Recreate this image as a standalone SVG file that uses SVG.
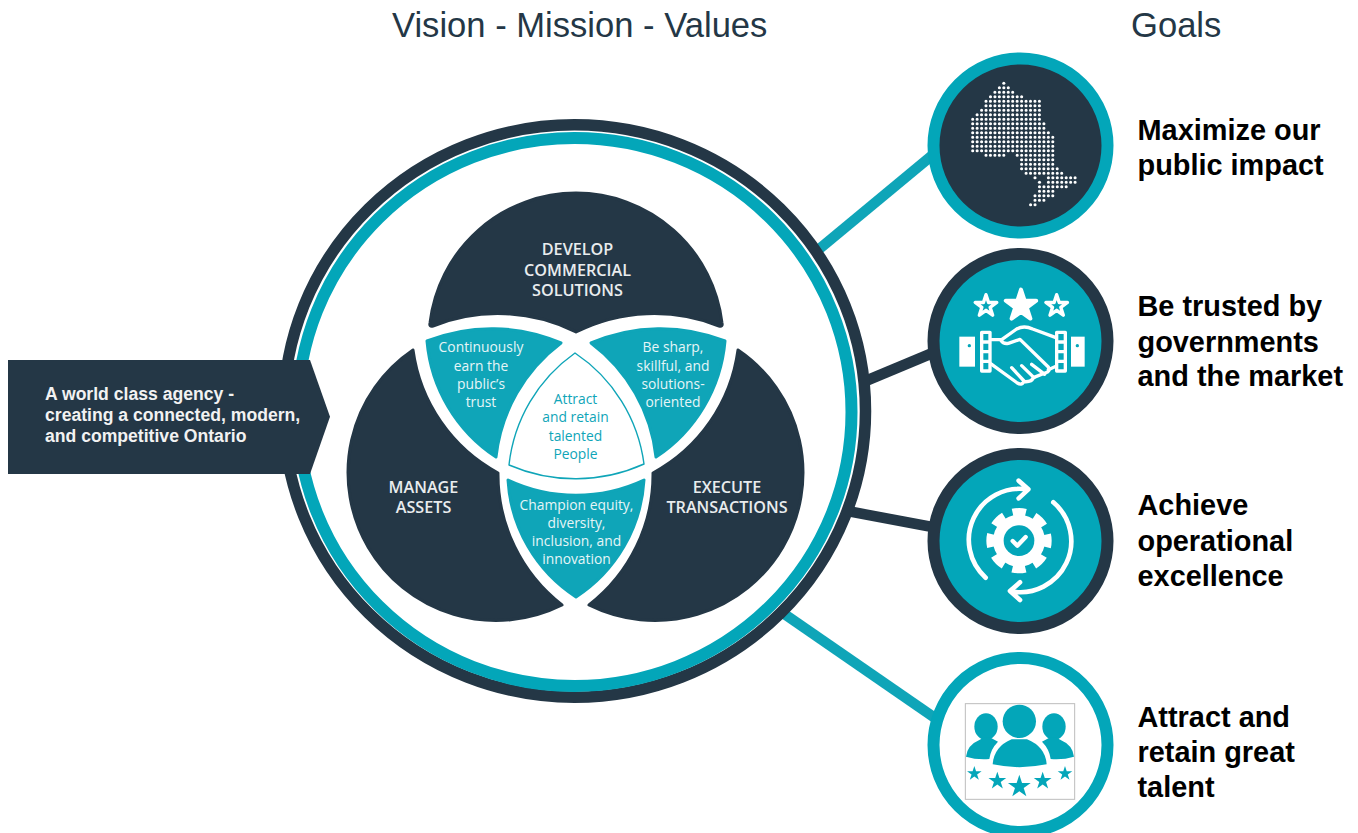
<svg xmlns="http://www.w3.org/2000/svg" xmlns:xlink="http://www.w3.org/1999/xlink" width="1358" height="833" viewBox="0 0 1358 833">
<style>
text{font-family:"Liberation Sans",Arial,sans-serif}
.title{font-size:34.600px;fill:#243746}
.goal{font-size:28.900px;font-weight:700;fill:#000}
.vis{font-size:17.600px;font-weight:700;fill:#f2f2f2}
.cap{font-family:"Open Sans","Noto Sans",sans-serif;font-size:16.200px;font-weight:600;fill:#e9ecee;text-anchor:middle}
.val{font-family:"Open Sans","Noto Sans",sans-serif;font-size:13.850px;fill:#e6f5f7;text-anchor:middle}
.valc{fill:#0fa5b8}
.dark{fill:#243746;stroke:#243746;stroke-width:3;stroke-linejoin:round}
.lens{fill:#0fa5b8;stroke:#0fa5b8;stroke-width:3;stroke-linejoin:round}
.conT{stroke:#0fa5b8;stroke-width:10.500;fill:none}
.conD{stroke:#243746;stroke-width:10.500;fill:none}
.dots path{stroke:#fff;stroke-width:3.100;stroke-linecap:round;stroke-dasharray:0 4.450;fill:none}
.ico{fill:none;stroke:#fff;stroke-width:10;stroke-linecap:round;stroke-linejoin:round}
.wf{fill:#fff}
.tf{fill:#03a6b9}
</style>
<defs>
<polygon id="star" points="0,-1 .225,-.309 .951,-.309 .363,.118 .588,.809 0,.382 -.588,.809 -.363,.118 -.951,-.309 -.225,-.309"/>
</defs>
<rect width="1358" height="833" fill="#fff"/>
<g id="connectors">
<path class="conT" d="M818 250 L935 153"/>
<path class="conD" d="M862 382.500 L935 352" style="stroke-width:11"/>
<path class="conD" d="M850 511.500 L935 527.500"/>
<path class="conT" d="M780 611 L935 718"/>
</g>
<text class="title" x="392" y="37">Vision - Mission - Values</text>
<text class="title" x="1131" y="37">Goals</text>
<g id="outer-ring" fill="none">
<ellipse cx="574.500" cy="411" rx="291" ry="286.200" stroke="#243746" stroke-width="11.500"/>
<ellipse cx="574.500" cy="412" rx="277" ry="274" stroke="#03a6b9" stroke-width="12"/>
</g>
<g id="vision">
<path fill="#243746" d="M8 360 H310 L330 416.700 L310 474 H8 Z"/>
<text class="vis" x="45" y="400">A world class agency -</text>
<text class="vis" x="45" y="421">creating a connected, modern,</text>
<text class="vis" x="45" y="442">and competitive Ontario</text>
</g>
<g id="develop">
<path class="dark" d="M430 323 A147 147 0 0 1 722 323 Q723 327 719 326 A175 175 0 0 0 576 332 A175 175 0 0 0 433 326 Q429 327 430 323 Z"/>
<text class="cap" x="577.500" y="255">DEVELOP</text>
<text class="cap" x="577.500" y="276">COMMERCIAL</text>
<text class="cap" x="577.500" y="296">SOLUTIONS</text>
</g>
<g id="manage">
<path class="dark" d="M413 350 A148 148 0 0 0 562 605 A165 165 0 0 1 498 473 A165 165 0 0 1 413 350 Z"/>
<text class="cap" x="423.500" y="493">MANAGE</text>
<text class="cap" x="423.500" y="513">ASSETS</text>
</g>
<g id="execute">
<path class="dark" d="M738 350 A148 148 0 0 1 589 605 A165 165 0 0 0 653 473 A165 165 0 0 0 738 350 Z"/>
<text class="cap" x="727" y="493">EXECUTE</text>
<text class="cap" x="727" y="513">TRANSACTIONS</text>
</g>
<g id="value-trust">
<path class="lens" d="M427 341 A175 175 0 0 1 561 343 A165 165 0 0 0 496 457 A155 155 0 0 1 427 341 Z"/>
<text class="val" x="481" y="352.300">Continuously</text>
<text class="val" x="481" y="370.700">earn the</text>
<text class="val" x="481" y="389">public’s</text>
<text class="val" x="481" y="407.300">trust</text>
</g>
<g id="value-sharp">
<path class="lens" d="M725 341 A175 175 0 0 0 591 343 A165 165 0 0 1 656 457 A155 155 0 0 0 725 341 Z"/>
<text class="val" x="673" y="352.300">Be sharp,</text>
<text class="val" x="673" y="370.700">skillful, and</text>
<text class="val" x="673" y="389">solutions-</text>
<text class="val" x="673" y="407.300">oriented</text>
</g>
<g id="value-equity">
<path class="lens" d="M508 480 A160 160 0 0 0 644 480 A150 150 0 0 1 576 597 A150 150 0 0 1 508 480 Z"/>
<text class="val" x="576.500" y="510">Champion equity,</text>
<text class="val" x="576.500" y="527.700">diversity,</text>
<text class="val" x="576.500" y="546">inclusion, and</text>
<text class="val" x="576.500" y="564.300">innovation</text>
</g>
<g id="value-people">
<path fill="#fff" stroke="#0fa5b8" stroke-width="1.400" stroke-linejoin="round" d="M575 353 A158 158 0 0 1 644 464 A167 167 0 0 1 509 465 A158 158 0 0 1 575 353 Z"/>
<text class="val valc" x="575.500" y="404">Attract</text>
<text class="val valc" x="575.500" y="422.300">and retain</text>
<text class="val valc" x="575.500" y="440.700">talented</text>
<text class="val valc" x="575.500" y="459">People</text>
</g>
<g id="goal-impact">
<circle cx="1020.500" cy="145.500" r="87" fill="#243746" stroke="#03a6b9" stroke-width="12"/>
<g class="dots">
<path d="M1003.800 83.300h.5"/><path d="M999.400 87.800h9.400"/><path d="M994.900 92.300h18.300"/><path d="M990.500 96.800h31.600"/>
<path d="M986 101.300h53.900"/><path d="M986 105.800h53.900"/><path d="M981.600 110.300h58.300"/><path d="M977.100 114.800h62.800"/>
<path d="M972.700 119.300h67.200"/><path d="M972.700 123.800h71.700"/><path d="M972.700 128.300h71.700"/><path d="M972.700 132.800h76.100"/>
<path d="M972.700 137.300h80.600"/><path d="M972.700 141.800h80.600"/><path d="M972.700 146.300h80.600"/><path d="M972.700 150.800h80.600"/>
<path d="M986 155.300h18.300"/><path d="M1017.200 155.300h36.100"/>
<path d="M1021.600 159.800h31.700"/><path d="M1021.600 164.300h31.700"/><path d="M1021.600 168.800h36.100"/><path d="M1026.100 173.300h36.100"/>
<path d="M1035 177.800h.5"/><path d="M1048.400 177.800h27"/><path d="M1039.500 182.300h.5"/><path d="M1048.400 182.300h27"/>
<path d="M1039.500 186.800h27"/><path d="M1039.500 191.300h13.800"/><path d="M1035 195.800h18.300"/><path d="M1035 200.300h9.400"/><path d="M1030.600 204.800h5"/>
</g>
</g>
<g id="goal-trust">
<circle cx="1020.500" cy="341" r="87" fill="#03a6b9" stroke="#243746" stroke-width="12"/>
<g transform="translate(920 245) scale(.33333)">
<use xlink:href="#star" href="#star" transform="translate(198 183) scale(34)" fill="none" stroke="#fff" stroke-width=".3" stroke-linejoin="round"/>
<use xlink:href="#star" href="#star" transform="translate(303 182) scale(48)" class="wf" stroke="#fff" stroke-width=".25" stroke-linejoin="round"/>
<use xlink:href="#star" href="#star" transform="translate(410 183) scale(34)" fill="none" stroke="#fff" stroke-width=".3" stroke-linejoin="round"/>
<rect x="118" y="275" width="47" height="90" class="wf"/>
<rect x="453" y="275" width="41" height="90" class="wf"/>
<circle cx="148" cy="302" r="5" class="tf"/>
<circle cx="472" cy="302" r="5" class="tf"/>
<path class="ico" d="M185 262 H210 V378 H185 Z M185 291 H210 M185 320 H210 M185 349 H210"/>
<path class="ico" d="M410 262 H436 V378 H410 Z M410 291 H436 M410 320 H436 M410 349 H436"/>
<path class="ico" d="M212 284 H245 L290 252 Q312 240 338 252 L408 278"/>
<path class="ico" d="M243 286 Q250 298 265 295 L300 283 L385 366 Q392 380 375 384 L340 398 Q335 412 312 410 Q305 422 292 414 L212 356"/>
<path class="ico" d="M275 368 L312 408 M305 362 L342 398 M335 358 L374 388 M408 364 L385 374"/>
</g>
</g>
<g id="goal-operational">
<circle cx="1020.500" cy="541" r="87" fill="#03a6b9" stroke="#243746" stroke-width="12"/>
<g transform="translate(920 445) scale(.33333)">
<circle cx="297" cy="287" r="78" class="wf"/>
<circle cx="297" cy="287" r="86" fill="none" stroke="#fff" stroke-width="24" stroke-dasharray="40 27.540" stroke-dashoffset="20"/>
<circle cx="297" cy="287" r="46" class="tf"/>
<path d="M278 288 L292 302 L317 276" fill="none" stroke="#fff" stroke-width="13" stroke-linecap="round" stroke-linejoin="round"/>
<path class="ico" style="stroke-width:14" d="M197 398 A153 153 0 0 1 322 133 M296 107 L325 133 L296 160"/>
<path class="ico" style="stroke-width:14" d="M400 172 A153 153 0 0 1 273 439 M300 412 L270 438 L300 465"/>
</g>
</g>
<g id="goal-talent">
<circle cx="1020.500" cy="745" r="87" fill="#fff" stroke="#03a6b9" stroke-width="12"/>
<g transform="translate(920 645) scale(.33333)">
<rect x="136" y="176" width="328" height="287" fill="#fff" stroke="#bdbdbd" stroke-width="3"/>
<g class="tf">
<ellipse cx="198" cy="245" rx="35" ry="40"/>
<ellipse cx="402" cy="245" rx="35" ry="40"/>
<path d="M138 335 Q142 300 178 285 Q185 280 190 278 H212 L234 290 Q212 312 208 342 Q170 345 138 335 Z"/>
<path d="M462 335 Q458 300 422 285 Q415 280 410 278 H388 L366 290 Q388 312 392 342 Q430 345 462 335 Z"/>
<circle cx="298" cy="229" r="50"/>
<path d="M218 358 Q222 305 275 283 H321 Q376 305 380 358 Q298 375 218 358 Z"/>
<use xlink:href="#star" href="#star" transform="translate(163 386) scale(23)"/>
<use xlink:href="#star" href="#star" transform="translate(232 408) scale(28)"/>
<use xlink:href="#star" href="#star" transform="translate(298 425) scale(36)"/>
<use xlink:href="#star" href="#star" transform="translate(368 408) scale(28)"/>
<use xlink:href="#star" href="#star" transform="translate(435 386) scale(23)"/>
</g>
</g>
</g>
<g id="goal-labels">
<text class="goal" x="1137.500" y="140">Maximize our</text>
<text class="goal" x="1137.500" y="175">public impact</text>
<text class="goal" x="1137.500" y="316">Be trusted by</text>
<text class="goal" x="1137.500" y="352">governments</text>
<text class="goal" x="1137.500" y="386">and the market</text>
<text class="goal" x="1137.500" y="515">Achieve</text>
<text class="goal" x="1137.500" y="551">operational</text>
<text class="goal" x="1137.500" y="586">excellence</text>
<text class="goal" x="1137.500" y="727">Attract and</text>
<text class="goal" x="1137.500" y="762">retain great</text>
<text class="goal" x="1137.500" y="797">talent</text>
</g>
</svg>
